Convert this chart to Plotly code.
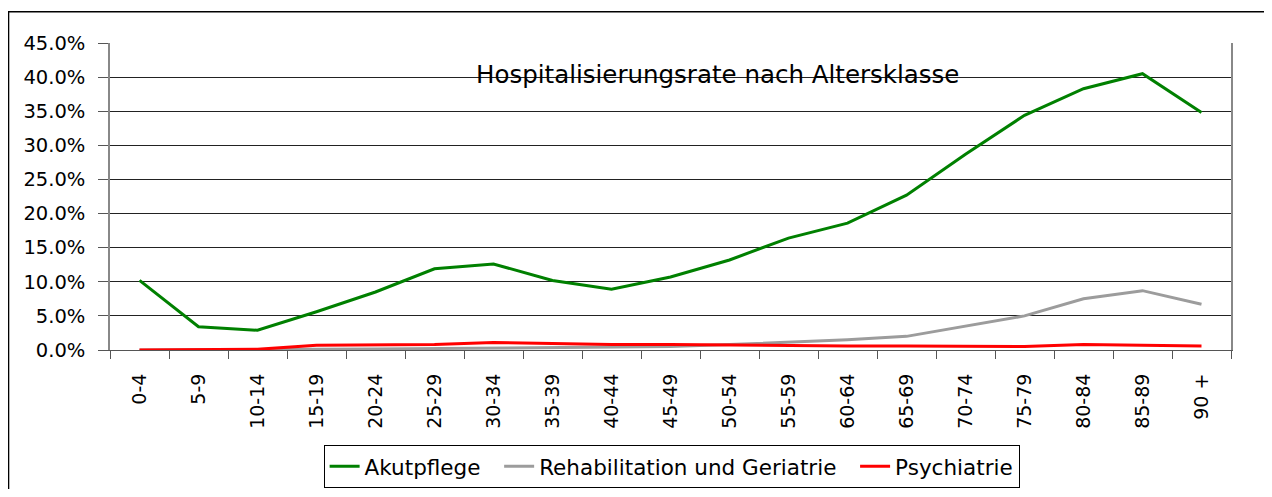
import plotly.graph_objects as go

categories = ["0-4", "5-9", "10-14", "15-19", "20-24", "25-29", "30-34", "35-39", "40-44",
              "45-49", "50-54", "55-59", "60-64", "65-69", "70-74", "75-79", "80-84", "85-89", "90 +"]
akutpflege = [10.2, 3.4, 2.9, 5.6, 8.5, 11.9, 12.6, 10.2, 8.9, 10.7, 13.2, 16.4, 18.6, 22.7,
              28.7, 34.4, 38.3, 40.5, 34.8]
rehabilitation = [0.0, 0.0, 0.05, 0.1, 0.15, 0.2, 0.25, 0.3, 0.4, 0.5, 0.8, 1.1, 1.5, 2.0,
                  3.5, 5.0, 7.5, 8.7, 6.7]
psychiatrie = [0.0, 0.0, 0.1, 0.7, 0.8, 0.8, 1.1, 0.9, 0.8, 0.8, 0.7, 0.6, 0.6, 0.6,
               0.6, 0.5, 0.8, 0.7, 0.6]
series_names = ["Akutpflege", "Rehabilitation und Geriatrie", "Psychiatrie"]
y_ticks = [0, 5, 10, 15, 20, 25, 30, 35, 40, 45]

FONT = "DejaVu Sans, Liberation Sans, Arial, sans-serif"

fig = go.Figure()
fig.add_trace(go.Scatter(x=categories, y=akutpflege, mode="lines", name=series_names[0] + "  ",
                         line=dict(color="#008000", width=3)))
fig.add_trace(go.Scatter(x=categories, y=rehabilitation, mode="lines", name=series_names[1] + "  ",
                         line=dict(color="#9c9c9c", width=3)))
fig.add_trace(go.Scatter(x=categories, y=psychiatrie, mode="lines", name=series_names[2],
                         line=dict(color="#ff0000", width=3)))

# page body has an 8px margin: figure is sized/offset to compensate
fig.update_layout(
    width=1256, height=481,
    margin=dict(l=102, r=33, t=35, b=139, autoexpand=False),
    paper_bgcolor="white", plot_bgcolor="white",
    font=dict(family=FONT, color="black"),
    showlegend=True,
    legend=dict(orientation="h", x=0.501, y=-0.379, xanchor="center", yanchor="middle",
                bordercolor="black", borderwidth=1, font=dict(size=21.5, family=FONT),
                itemwidth=30, tracegroupgap=0),
    annotations=[dict(text="Hospitalisierungsrate nach Altersklasse", x=0.5415, y=0.951,
                      xref="paper", yref="paper", showarrow=False,
                      font=dict(size=24.5, family=FONT, color="black"))],
    shapes=[dict(type="rect", xref="paper", yref="paper",
                 x0=-0.0905, x1=1.06, y0=-0.6, y1=1.102,
                 line=dict(color="black", width=1.5), layer="below")],
)
fig.update_xaxes(
    type="category", tickson="boundaries", ticks="outside", ticklen=8, tickcolor="#555",
    tickangle=-90, tickfont=dict(size=19, family=FONT), showgrid=False,
    showline=True, linecolor="#555", linewidth=1, mirror=False,
    ticklabelstandoff=15, automargin=False,
    range=[-0.5, len(categories) - 0.5],
)
fig.update_yaxes(
    range=[0, 45], tickvals=y_ticks, ticktext=[f"{v:.1f}%" for v in y_ticks],
    ticks="outside", ticklen=10, tickcolor="#555",
    tickfont=dict(size=19.5, family=FONT), ticklabelstandoff=9, automargin=False,
    showgrid=True, gridcolor="#222", gridwidth=1,
    showline=True, linecolor="#888", linewidth=1.5, mirror=True,
    zeroline=False,
)

fig.write_html("out.html")
